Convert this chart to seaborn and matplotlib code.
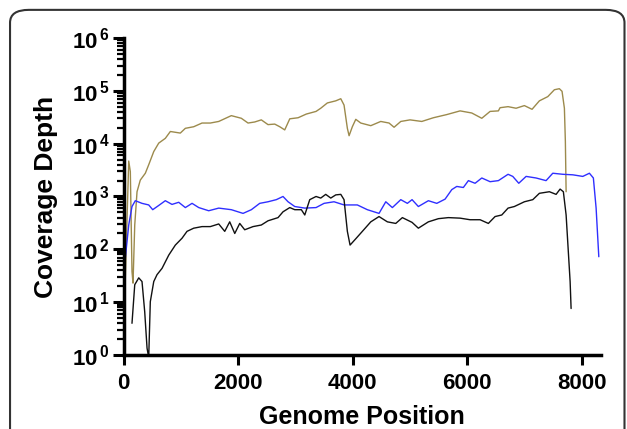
import numpy as np
import pandas as pd
import matplotlib
matplotlib.use("Agg")
import matplotlib.pyplot as plt
from matplotlib.patches import FancyBboxPatch
from matplotlib.ticker import FixedLocator, LogLocator, NullFormatter, FuncFormatter
import seaborn as sns

# ---- data (depth given as log10 values) ----
olive_x = [21, 91, 119, 148, 166, 196, 236, 293, 381, 440, 528, 615, 730, 818, 992,
           1080, 1226, 1371, 1516, 1663, 1883, 2058, 2175, 2292, 2407, 2524, 2641, 2729,
           2816, 2904, 3049, 3193, 3363, 3445, 3560, 3707, 3795, 3852, 3910, 3940, 3997,
           4057, 4144, 4319, 4493, 4638, 4726, 4843, 5005, 5210, 5412, 5646, 5879, 6083,
           6258, 6403, 6548, 6577, 6717, 6857, 7002, 7136, 7264, 7411, 7526, 7613, 7660,
           7701, 7718, 7731]
olive_log10 = [1.07, 3.67, 3.47, 1.58, 1.36, 2.46, 3.09, 3.31, 3.44, 3.60, 3.85, 4.01,
               4.10, 4.23, 4.20, 4.29, 4.32, 4.39, 4.39, 4.42, 4.53, 4.48, 4.39, 4.41,
               4.45, 4.36, 4.37, 4.32, 4.26, 4.47, 4.49, 4.56, 4.61, 4.67, 4.77, 4.81,
               4.85, 4.73, 4.29, 4.15, 4.32, 4.46, 4.39, 4.34, 4.42, 4.39, 4.31, 4.42,
               4.45, 4.42, 4.49, 4.55, 4.62, 4.58, 4.48, 4.61, 4.62, 4.68, 4.70, 4.67,
               4.72, 4.65, 4.81, 4.89, 5.02, 5.04, 4.99, 4.67, 4.04, 3.09]

blue_x = [3, 31, 91, 148, 206, 323, 440, 510, 615, 730, 847, 964, 1080, 1197, 1314,
          1488, 1663, 1883, 2088, 2233, 2379, 2524, 2669, 2786, 2874, 2991, 3166, 3363,
          3503, 3677, 3852, 4084, 4259, 4463, 4581, 4696, 4843, 4958, 5040, 5150, 5325,
          5472, 5617, 5734, 5821, 5936, 6024, 6141, 6258, 6403, 6548, 6717, 6799, 6904,
          7032, 7206, 7381, 7498, 7673, 7848, 8022, 8138, 8207, 8255, 8302]
blue_log10 = [1.07, 1.83, 2.46, 2.81, 2.92, 2.87, 2.84, 2.75, 2.83, 2.92, 2.85, 2.89,
              2.79, 2.87, 2.79, 2.73, 2.78, 2.75, 2.68, 2.75, 2.87, 2.90, 2.94, 3.00,
              2.90, 2.81, 2.78, 2.79, 2.87, 2.90, 2.84, 2.84, 2.75, 2.68, 2.90, 2.79,
              2.94, 2.87, 2.94, 2.81, 2.92, 2.87, 2.95, 3.13, 3.19, 3.17, 3.30, 3.25,
              3.35, 3.28, 3.30, 3.42, 3.38, 3.25, 3.38, 3.35, 3.30, 3.44, 3.42, 3.41,
              3.38, 3.44, 3.35, 2.78, 1.86]

black_x = [148, 196, 266, 323, 370, 411, 440, 468, 528, 585, 673, 790, 905, 1022, 1109,
           1226, 1371, 1516, 1663, 1768, 1855, 1943, 2030, 2117, 2262, 2407, 2524, 2699,
           2786, 2904, 2991, 3106, 3166, 3253, 3363, 3445, 3532, 3620, 3707, 3795, 3852,
           3910, 3957, 4057, 4172, 4319, 4463, 4609, 4755, 4871, 5040, 5150, 5325, 5500,
           5674, 5879, 6053, 6228, 6373, 6490, 6607, 6717, 6827, 7002, 7149, 7264, 7439,
           7556, 7626, 7683, 7731, 7766, 7801, 7818]
black_log10 = [0.60, 1.33, 1.46, 1.39, 0.82, 0.13, -0.05, 1.01, 1.39, 1.52, 1.64, 1.89,
               2.08, 2.21, 2.34, 2.40, 2.43, 2.43, 2.48, 2.34, 2.52, 2.30, 2.49, 2.37,
               2.43, 2.46, 2.54, 2.60, 2.71, 2.79, 2.75, 2.75, 2.65, 2.94, 3.00, 2.97,
               3.04, 2.97, 3.03, 3.04, 2.94, 2.34, 2.08, 2.20, 2.34, 2.52, 2.62, 2.52,
               2.49, 2.60, 2.51, 2.40, 2.52, 2.58, 2.60, 2.59, 2.56, 2.56, 2.49, 2.62,
               2.65, 2.78, 2.81, 2.90, 2.94, 3.06, 3.09, 3.04, 3.14, 3.09, 2.65, 2.02,
               1.39, 0.88]

series_names = ["olive", "blue", "black"]
colors = {"olive": "#9c8a4c", "blue": "#2f2fff", "black": "#111111"}
x_ticks = [0, 2000, 4000, 6000, 8000]
y_decades = [1, 10, 100, 1000, 10000, 100000, 1000000]

df = pd.concat([
    pd.DataFrame({"pos": olive_x, "depth": np.power(10.0, olive_log10), "s": "olive"}),
    pd.DataFrame({"pos": blue_x, "depth": np.power(10.0, blue_log10), "s": "blue"}),
    pd.DataFrame({"pos": black_x, "depth": np.power(10.0, black_log10), "s": "black"}),
], ignore_index=True)

sns.set_style("ticks")
plt.rcParams["font.family"] = ["Liberation Sans", "DejaVu Sans"]
plt.rcParams["mathtext.fontset"] = "custom"
plt.rcParams["mathtext.rm"] = "Liberation Sans"
plt.rcParams["mathtext.bf"] = "Liberation Sans:bold"
for k in ["text.color", "axes.labelcolor", "xtick.color", "ytick.color", "axes.edgecolor"]:
    plt.rcParams[k] = "black"

fig = plt.figure(figsize=(6.27, 4.29), dpi=100)
ax = fig.add_axes([0.197, 0.1725, 0.7615, 0.739])

for name in series_names:
    sub = df[df["s"] == name]
    sns.lineplot(data=sub, x="pos", y="depth", ax=ax, color=colors[name],
                 sort=False, estimator=None, linewidth=1.0, legend=False)

ax.set_yscale("log")
ax.set_ylim(1, 1e6)
ax.set_xlim(0, 8340)

ax.xaxis.set_major_locator(FixedLocator(x_ticks))
ax.set_xticklabels([str(t) for t in x_ticks], fontsize=16, fontweight="bold")
ax.yaxis.set_major_locator(FixedLocator(y_decades))
ax.yaxis.set_major_formatter(FuncFormatter(
    lambda v, p: r"$\mathbf{10}^{\,\mathbf{%d}}$" % int(round(np.log10(v)))))
ax.yaxis.set_minor_locator(LogLocator(base=10, subs=np.arange(2, 10)))
ax.yaxis.set_minor_formatter(NullFormatter())
for lab in ax.get_yticklabels():
    lab.set_fontsize(16)

ax.tick_params(axis="x", which="major", direction="out", length=7, width=2.2, pad=6)
ax.tick_params(axis="y", which="major", direction="out", length=8, width=2.2, pad=2)
ax.tick_params(axis="y", which="minor", direction="out", length=5, width=1.6)
ax.tick_params(axis="x", which="minor", length=0)

for side in ["top", "right"]:
    ax.spines[side].set_visible(False)
for side in ["left", "bottom"]:
    ax.spines[side].set_linewidth(2.5)

ax.set_xlabel("Genome Position", fontsize=18, fontweight="bold", labelpad=8)
ax.set_ylabel("Coverage Depth", fontsize=19, fontweight="bold", labelpad=10)

frame = FancyBboxPatch((0.016, -0.1), 0.98, 1.077, boxstyle="round,pad=0,rounding_size=0.03",
                       transform=fig.transFigure, fill=False, edgecolor="#333333",
                       linewidth=1.5, clip_on=False)
fig.patches.append(frame)

fig.savefig("out.png", dpi=100)
